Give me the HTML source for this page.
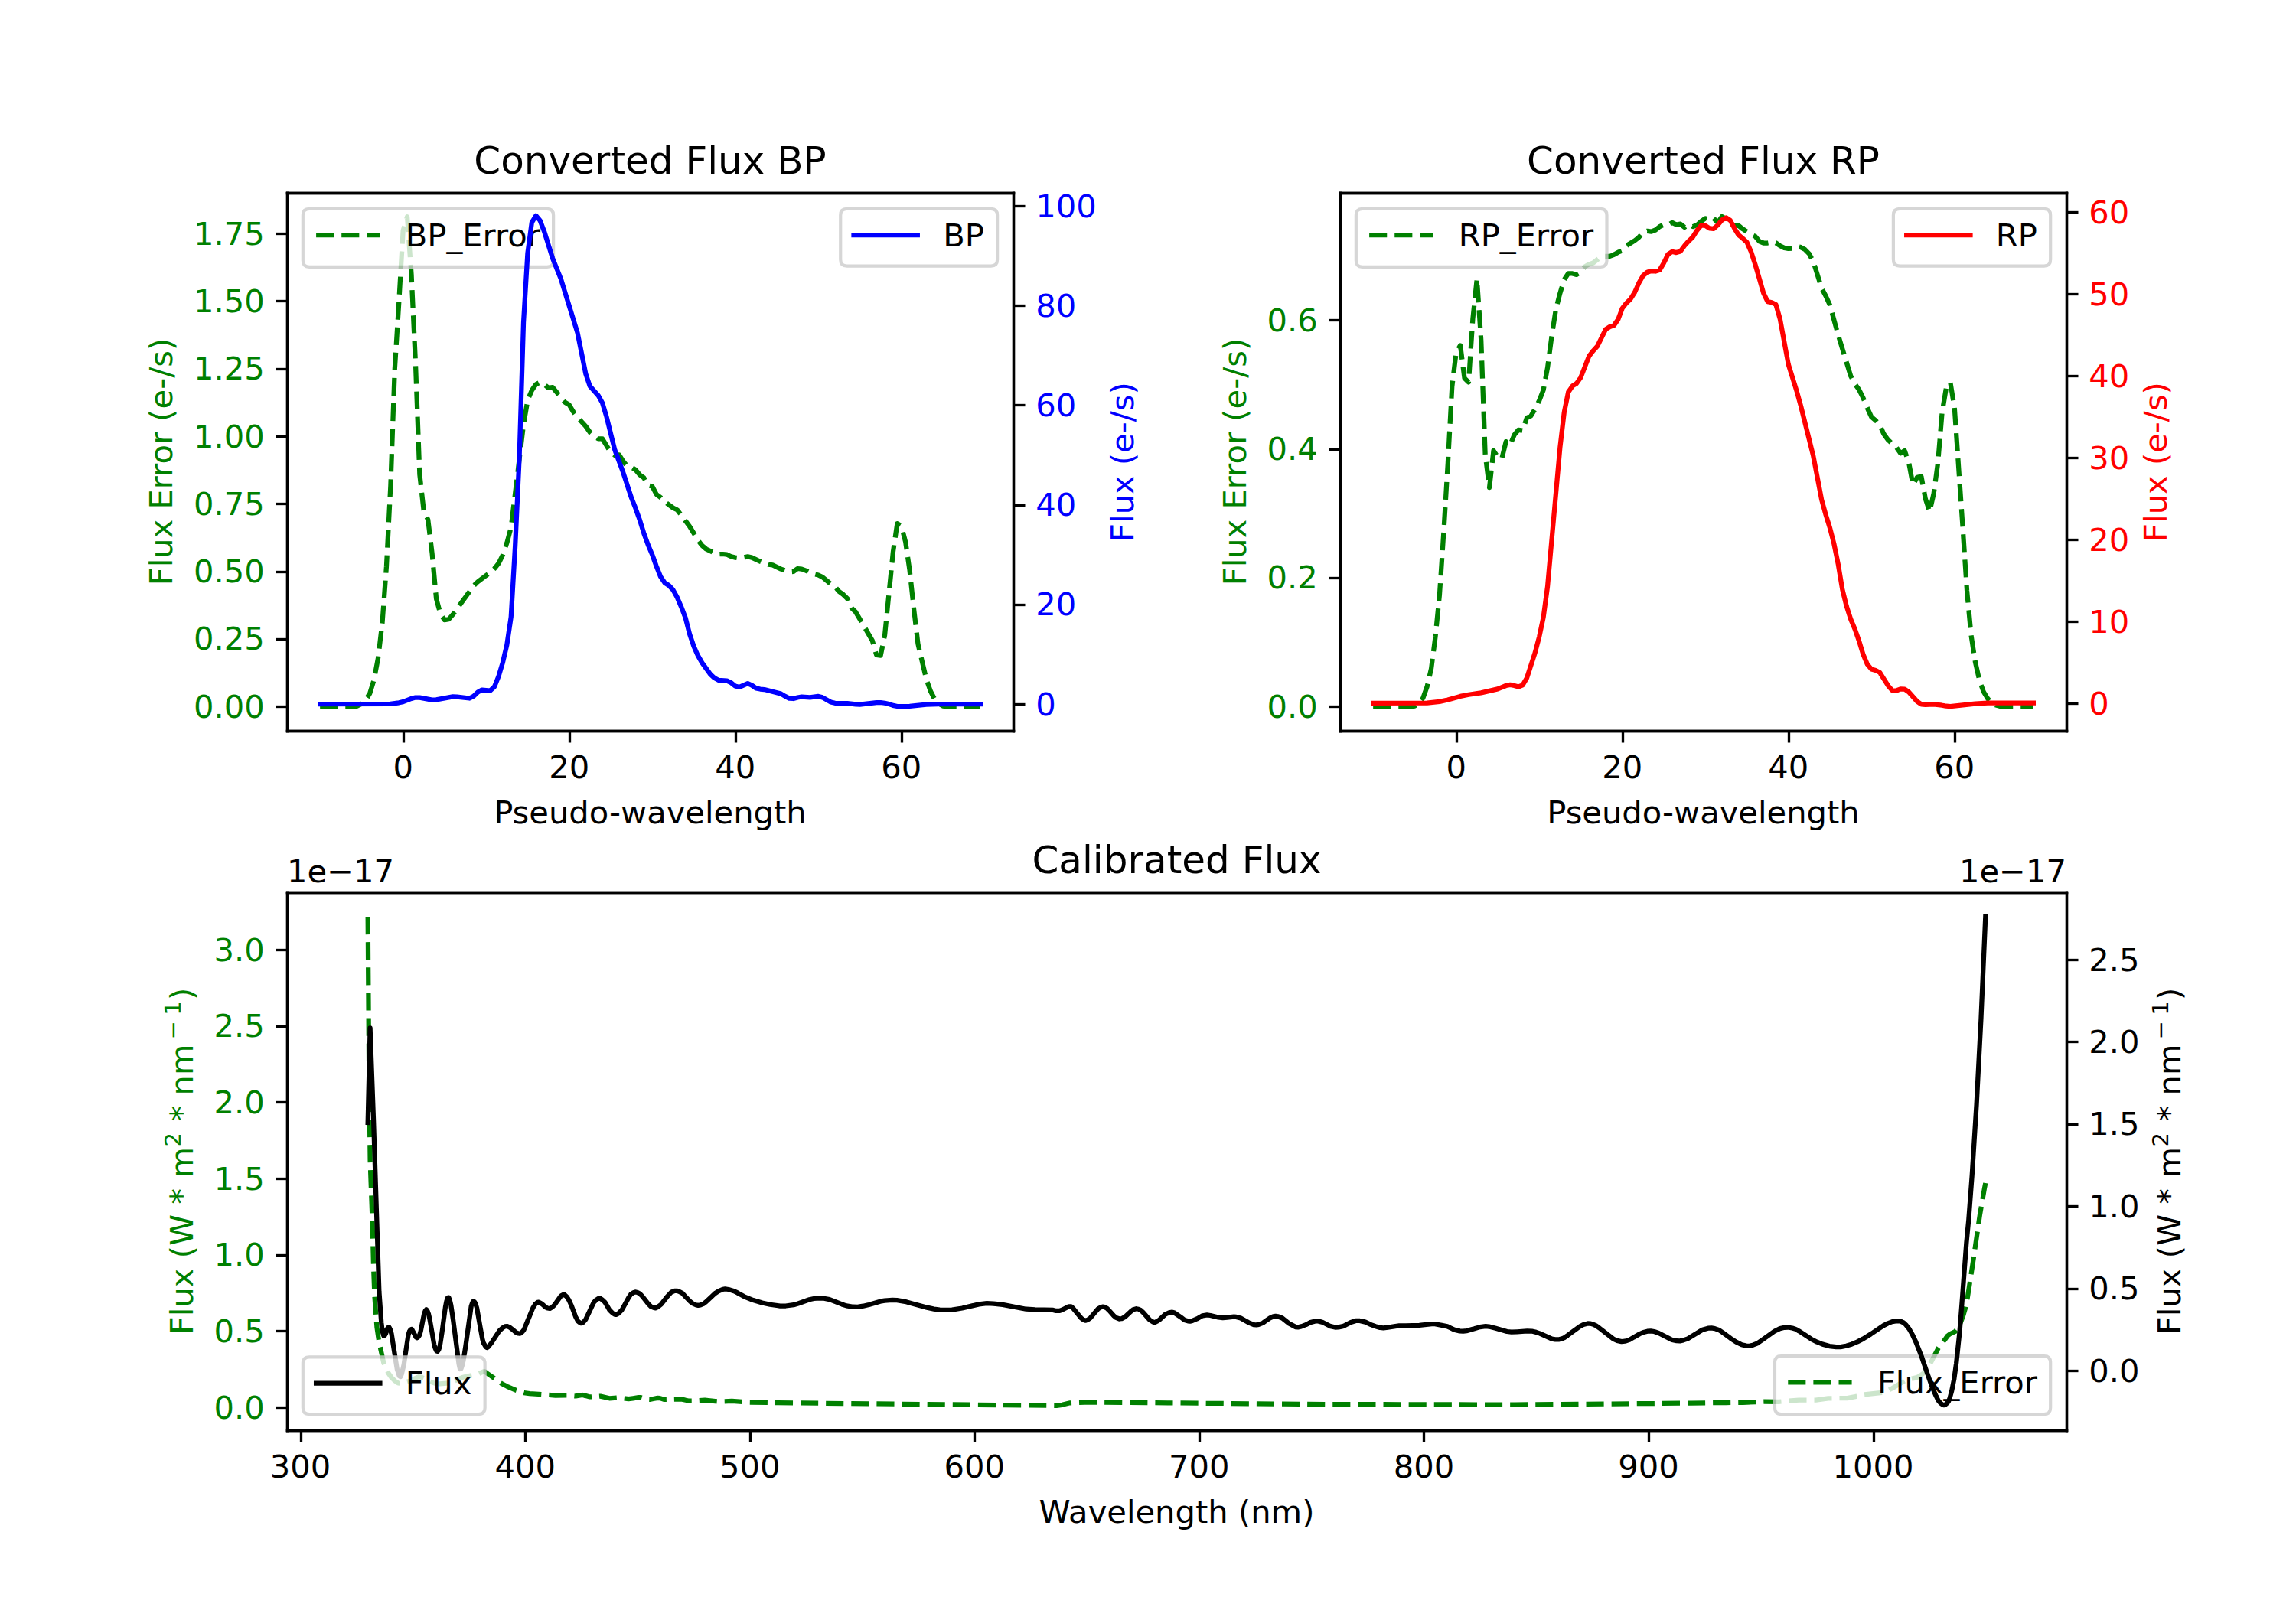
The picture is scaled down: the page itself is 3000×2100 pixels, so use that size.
<!DOCTYPE html>
<html lang="en"><head><meta charset="utf-8"><title>Gaia XP spectra</title>
<style>html,body{margin:0;padding:0;background:#fff}body{width:3000px;height:2100px;overflow:hidden}svg{display:block}</style></head>
<body>
<svg width="3000" height="2100" viewBox="0 0 720 504">
<style>svg *{stroke-linejoin: round; stroke-linecap: butt}</style>
<g>
<g>
<path d="M 0 504 L 720 504 L 720 0 L 0 0 z" style="fill: #ffffff"/>
</g>
<g>
<g>
<path d="M 90 229.210435 L 317.755102 229.210435 L 317.755102 60.48 L 90 60.48 z" style="fill: #ffffff"/>
</g>
<g>
<g>
<g>
<g>
<path d="M 126.6 229.32 L 126.6 232.92" style="stroke: #000000; stroke-width: 0.8"/>
</g>
</g>
<g>
<text style="font-size: 10px; font-family: 'DejaVu Sans', 'Liberation Sans', sans-serif; text-anchor: middle" x="126.396541" y="244.024872" transform="rotate(-0 126.396541 244.024872)">0</text>
</g>
</g>
<g>
<g>
<g>
<path d="M 178.68 229.32 L 178.68 232.92" style="stroke: #000000; stroke-width: 0.8"/>
</g>
</g>
<g>
<text style="font-size: 10px; font-family: 'DejaVu Sans', 'Liberation Sans', sans-serif; text-anchor: middle" x="178.484615" y="244.024872" transform="rotate(-0 178.484615 244.024872)">20</text>
</g>
</g>
<g>
<g>
<g>
<path d="M 230.76 229.32 L 230.76 232.92" style="stroke: #000000; stroke-width: 0.8"/>
</g>
</g>
<g>
<text style="font-size: 10px; font-family: 'DejaVu Sans', 'Liberation Sans', sans-serif; text-anchor: middle" x="230.572689" y="244.024872" transform="rotate(-0 230.572689 244.024872)">40</text>
</g>
</g>
<g>
<g>
<g>
<path d="M 282.84 229.32 L 282.84 232.92" style="stroke: #000000; stroke-width: 0.8"/>
</g>
</g>
<g>
<text style="font-size: 10px; font-family: 'DejaVu Sans', 'Liberation Sans', sans-serif; text-anchor: middle" x="282.660762" y="244.024872" transform="rotate(-0 282.660762 244.024872)">60</text>
</g>
</g>
<g>
<text style="font-size: 10px; font-family: 'DejaVu Sans', 'Liberation Sans', sans-serif; text-anchor: middle" x="203.877551" y="258.322997" transform="rotate(-0 203.877551 258.322997)">Pseudo-wavelength</text>
</g>
</g>
<g>
<g>
<g>
<g>
<path d="M 90.12 221.64 L 86.52 221.64" style="stroke: #000000; stroke-width: 0.8"/>
</g>
</g>
<g>
<text style="font-size: 10px; font-family: 'DejaVu Sans', 'Liberation Sans', sans-serif; text-anchor: end; fill: #008000" x="83" y="225.052088" transform="rotate(-0 83 225.052088)">0.00</text>
</g>
</g>
<g>
<g>
<g>
<path d="M 90.12 200.52 L 86.52 200.52" style="stroke: #000000; stroke-width: 0.8"/>
</g>
</g>
<g>
<text style="font-size: 10px; font-family: 'DejaVu Sans', 'Liberation Sans', sans-serif; text-anchor: end; fill: #008000" x="83" y="203.865444" transform="rotate(-0 83 203.865444)">0.25</text>
</g>
</g>
<g>
<g>
<g>
<path d="M 90.12 179.4 L 86.52 179.4" style="stroke: #000000; stroke-width: 0.8"/>
</g>
</g>
<g>
<text style="font-size: 10px; font-family: 'DejaVu Sans', 'Liberation Sans', sans-serif; text-anchor: end; fill: #008000" x="83" y="182.6788" transform="rotate(-0 83 182.6788)">0.50</text>
</g>
</g>
<g>
<g>
<g>
<path d="M 90.12 158.04 L 86.52 158.04" style="stroke: #000000; stroke-width: 0.8"/>
</g>
</g>
<g>
<text style="font-size: 10px; font-family: 'DejaVu Sans', 'Liberation Sans', sans-serif; text-anchor: end; fill: #008000" x="83" y="161.492156" transform="rotate(-0 83 161.492156)">0.75</text>
</g>
</g>
<g>
<g>
<g>
<path d="M 90.12 136.92 L 86.52 136.92" style="stroke: #000000; stroke-width: 0.8"/>
</g>
</g>
<g>
<text style="font-size: 10px; font-family: 'DejaVu Sans', 'Liberation Sans', sans-serif; text-anchor: end; fill: #008000" x="83" y="140.305511" transform="rotate(-0 83 140.305511)">1.00</text>
</g>
</g>
<g>
<g>
<g>
<path d="M 90.12 115.8 L 86.52 115.8" style="stroke: #000000; stroke-width: 0.8"/>
</g>
</g>
<g>
<text style="font-size: 10px; font-family: 'DejaVu Sans', 'Liberation Sans', sans-serif; text-anchor: end; fill: #008000" x="83" y="119.118867" transform="rotate(-0 83 119.118867)">1.25</text>
</g>
</g>
<g>
<g>
<g>
<path d="M 90.12 94.44 L 86.52 94.44" style="stroke: #000000; stroke-width: 0.8"/>
</g>
</g>
<g>
<text style="font-size: 10px; font-family: 'DejaVu Sans', 'Liberation Sans', sans-serif; text-anchor: end; fill: #008000" x="83" y="97.932223" transform="rotate(-0 83 97.932223)">1.50</text>
</g>
</g>
<g>
<g>
<g>
<path d="M 90.12 73.32 L 86.52 73.32" style="stroke: #000000; stroke-width: 0.8"/>
</g>
</g>
<g>
<text style="font-size: 10px; font-family: 'DejaVu Sans', 'Liberation Sans', sans-serif; text-anchor: end; fill: #008000" x="83" y="76.745579" transform="rotate(-0 83 76.745579)">1.75</text>
</g>
</g>
<g>
<text style="font-size: 10px; font-family: 'DejaVu Sans', 'Liberation Sans', sans-serif; text-anchor: middle; fill: #008000" x="54.104687" y="144.845217" transform="rotate(-90 54.104687 144.845217)">Flux Error (e-/s)</text>
</g>
</g>
<g>
<path d="M 100.353596 221.664797 L 110.771511 221.609477 L 112.073751 221.421372 L 113.37599 220.721891 L 114.678229 219.562513 L 115.980469 217.441608 L 117.282708 213.178465 L 118.584948 206.312276 L 119.887187 195.288344 L 121.189427 177.660113 L 122.491666 152.291317 L 123.793905 115.66026 L 125.096145 94.911923 L 126.398384 72.341399 L 127.700624 67.951716 L 129.002863 85.963981 L 130.305103 113.778924 L 131.607342 148.812148 L 132.909582 160.344342 L 134.211821 162.998417 L 135.51406 173.621254 L 136.8163 187.772917 L 138.118539 192.534473 L 139.420779 194.424557 L 140.723018 194.227429 L 142.025258 192.716445 L 148.536455 183.720065 L 149.838694 182.432911 L 152.443173 180.498955 L 153.745413 179.520735 L 155.047652 178.314074 L 156.349891 176.713264 L 157.652131 174.06129 L 158.95437 170.27953 L 160.25661 165.468999 L 164.163328 133.217873 L 165.465568 125.544322 L 166.767807 122.426046 L 168.070046 120.527951 L 169.372286 119.904294 L 170.674525 120.528886 L 171.976765 121.632303 L 173.279004 121.464302 L 177.185723 126.169099 L 178.487962 126.960329 L 179.790201 129.142916 L 181.092441 130.872922 L 183.69692 133.705552 L 184.999159 135.576372 L 186.301399 136.847671 L 187.603638 137.616382 L 188.905877 137.616382 L 191.510356 141.864403 L 192.812596 142.800406 L 194.114835 142.632407 L 195.417075 144.671759 L 196.719314 146.256808 L 198.021554 146.568426 L 199.323793 147.335667 L 200.626032 148.920871 L 201.928272 149.855949 L 203.230511 152.208859 L 204.532751 152.520455 L 205.83499 155.015443 L 207.13723 155.976892 L 208.439469 157.36806 L 211.043948 159.264489 L 212.346187 159.887816 L 216.252906 165.073991 L 218.857385 169.367116 L 220.159624 171.097044 L 221.461863 172.200259 L 224.066342 173.448559 L 225.368582 173.83256 L 226.670821 173.76056 L 227.973061 173.928464 L 229.2753 174.552871 L 230.57754 174.864566 L 231.879779 175.032567 L 233.182018 174.864485 L 234.484258 174.552564 L 235.786497 174.864873 L 238.390976 176.112172 L 240.995455 177.048486 L 242.297694 177.216773 L 244.902173 178.464184 L 247.506652 179.352588 L 248.808892 179.256458 L 250.111131 178.320583 L 251.413371 178.46442 L 252.71561 178.944786 L 254.017849 179.568389 L 255.320089 180.04887 L 256.622328 180.360593 L 257.924568 180.984008 L 260.529047 183.16827 L 261.831286 183.961386 L 263.133526 185.520619 L 264.435765 186.455828 L 265.738004 187.729287 L 267.040244 190.703995 L 268.342483 191.953827 L 273.551441 200.9036 L 274.85368 205.440956 L 276.15592 205.608718 L 277.458159 199.182958 L 280.062638 173.14052 L 281.364878 164.208514 L 282.667117 164.976517 L 283.969357 169.987802 L 285.271596 178.948377 L 286.573835 191.012408 L 287.876075 201.98945 L 290.480554 212.984291 L 291.782793 216.723895 L 293.085033 219.257964 L 294.387272 220.619495 L 295.689512 221.420169 L 296.991751 221.616833 L 299.59623 221.688798 L 307.409666 221.688798 L 307.409666 221.688798" style="fill: none; stroke-dasharray: 5.55,2.4; stroke-dashoffset: 0; stroke: #008000; stroke-width: 1.5"/>
</g>
<g>
<path d="M 90.12 229.32 L 90.12 60.6" style="fill: none; stroke: #000000; stroke-width: 0.8; stroke-linejoin: miter; stroke-linecap: square"/>
</g>
<g>
<path d="M 317.88 229.32 L 317.88 60.6" style="fill: none; stroke: #000000; stroke-width: 0.8; stroke-linejoin: miter; stroke-linecap: square"/>
</g>
<g>
<path d="M 90.12 229.32 L 317.88 229.32" style="fill: none; stroke: #000000; stroke-width: 0.8; stroke-linejoin: miter; stroke-linecap: square"/>
</g>
<g>
<path d="M 90.12 60.6 L 317.88 60.6" style="fill: none; stroke: #000000; stroke-width: 0.8; stroke-linejoin: miter; stroke-linecap: square"/>
</g>
<g>
<text style="font-size: 12px; font-family: 'DejaVu Sans', 'Liberation Sans', sans-serif; text-anchor: middle" x="203.877551" y="54.48" transform="rotate(-0 203.877551 54.48)">Converted Flux BP</text>
</g>
<g>
<g>
<path d="M 97 83.72425 L 171.548938 83.72425 Q 173.548938 83.72425 173.548938 81.72425 L 173.548938 67.48 Q 173.548938 65.48 171.548938 65.48 L 97 65.48 Q 95 65.48 95 67.48 L 95 81.72425 Q 95 83.72425 97 83.72425 z" style="fill: #ffffff; opacity: 0.8; stroke: #cccccc; stroke-linejoin: miter"/>
</g>
<g>
<path d="M 99.144 73.722437 L 109.144 73.722437 L 119.144 73.722437" style="fill: none; stroke-dasharray: 5.55,2.4; stroke-dashoffset: 0; stroke: #008000; stroke-width: 1.5"/>
</g>
<g>
<text style="font-size: 10px; font-family: 'DejaVu Sans', 'Liberation Sans', sans-serif; text-anchor: start" x="127.144" y="77.222437" transform="rotate(-0 127.144 77.222437)">BP_Error</text>
</g>
</g>
</g>
<g>
<g>
<path d="M 420.244898 229.210435 L 648 229.210435 L 648 60.48 L 420.244898 60.48 z" style="fill: #ffffff"/>
</g>
<g>
<g>
<g>
<g>
<path d="M 456.84 229.32 L 456.84 232.92" style="stroke: #000000; stroke-width: 0.8"/>
</g>
</g>
<g>
<text style="font-size: 10px; font-family: 'DejaVu Sans', 'Liberation Sans', sans-serif; text-anchor: middle" x="456.641439" y="244.024872" transform="rotate(-0 456.641439 244.024872)">0</text>
</g>
</g>
<g>
<g>
<g>
<path d="M 508.92 229.32 L 508.92 232.92" style="stroke: #000000; stroke-width: 0.8"/>
</g>
</g>
<g>
<text style="font-size: 10px; font-family: 'DejaVu Sans', 'Liberation Sans', sans-serif; text-anchor: middle" x="508.729513" y="244.024872" transform="rotate(-0 508.729513 244.024872)">20</text>
</g>
</g>
<g>
<g>
<g>
<path d="M 561 229.32 L 561 232.92" style="stroke: #000000; stroke-width: 0.8"/>
</g>
</g>
<g>
<text style="font-size: 10px; font-family: 'DejaVu Sans', 'Liberation Sans', sans-serif; text-anchor: middle" x="560.817587" y="244.024872" transform="rotate(-0 560.817587 244.024872)">40</text>
</g>
</g>
<g>
<g>
<g>
<path d="M 613.08 229.32 L 613.08 232.92" style="stroke: #000000; stroke-width: 0.8"/>
</g>
</g>
<g>
<text style="font-size: 10px; font-family: 'DejaVu Sans', 'Liberation Sans', sans-serif; text-anchor: middle" x="612.90566" y="244.024872" transform="rotate(-0 612.90566 244.024872)">60</text>
</g>
</g>
<g>
<text style="font-size: 10px; font-family: 'DejaVu Sans', 'Liberation Sans', sans-serif; text-anchor: middle" x="534.122449" y="258.322997" transform="rotate(-0 534.122449 258.322997)">Pseudo-wavelength</text>
</g>
</g>
<g>
<g>
<g>
<g>
<path d="M 420.36 221.64 L 416.76 221.64" style="stroke: #000000; stroke-width: 0.8"/>
</g>
</g>
<g>
<text style="font-size: 10px; font-family: 'DejaVu Sans', 'Liberation Sans', sans-serif; text-anchor: end; fill: #008000" x="413.244898" y="225.051997" transform="rotate(-0 413.244898 225.051997)">0.0</text>
</g>
</g>
<g>
<g>
<g>
<path d="M 420.36 181.32 L 416.76 181.32" style="stroke: #000000; stroke-width: 0.8"/>
</g>
</g>
<g>
<text style="font-size: 10px; font-family: 'DejaVu Sans', 'Liberation Sans', sans-serif; text-anchor: end; fill: #008000" x="413.244898" y="184.664124" transform="rotate(-0 413.244898 184.664124)">0.2</text>
</g>
</g>
<g>
<g>
<g>
<path d="M 420.36 141 L 416.76 141" style="stroke: #000000; stroke-width: 0.8"/>
</g>
</g>
<g>
<text style="font-size: 10px; font-family: 'DejaVu Sans', 'Liberation Sans', sans-serif; text-anchor: end; fill: #008000" x="413.244898" y="144.276251" transform="rotate(-0 413.244898 144.276251)">0.4</text>
</g>
</g>
<g>
<g>
<g>
<path d="M 420.36 100.44 L 416.76 100.44" style="stroke: #000000; stroke-width: 0.8"/>
</g>
</g>
<g>
<text style="font-size: 10px; font-family: 'DejaVu Sans', 'Liberation Sans', sans-serif; text-anchor: end; fill: #008000" x="413.244898" y="103.888379" transform="rotate(-0 413.244898 103.888379)">0.6</text>
</g>
</g>
<g>
<text style="font-size: 10px; font-family: 'DejaVu Sans', 'Liberation Sans', sans-serif; text-anchor: middle; fill: #008000" x="390.712085" y="144.845217" transform="rotate(-90 390.712085 144.845217)">Flux Error (e-/s)</text>
</g>
</g>
<g>
<path d="M 430.596094 221.664797 L 442.316248 221.664797 L 443.618488 221.423672 L 444.920727 220.572649 L 446.222967 218.967186 L 447.525206 215.314615 L 448.827446 209.659976 L 450.129685 199.636112 L 451.431925 186.445223 L 452.734164 166.815425 L 454.036403 145.365359 L 455.338643 121.320301 L 456.640882 110.448247 L 457.943122 108.360237 L 459.245361 118.608288 L 460.547601 119.856294 L 461.84984 100.008196 L 463.15208 87.456133 L 464.454319 106.680229 L 465.756558 142.560406 L 467.058798 152.928457 L 468.361037 141.3124 L 469.663277 143.40041 L 470.965516 143.784412 L 472.267756 138.504386 L 473.569995 139.536391 L 474.872234 136.392376 L 476.174474 134.832368 L 477.476713 135.048369 L 478.778953 131.064349 L 480.081192 130.440346 L 481.383432 128.256335 L 482.685671 125.640322 L 483.987911 122.305566 L 485.29015 115.32877 L 486.592389 105.504378 L 487.894629 97.059744 L 489.196868 91.996695 L 490.499108 87.711981 L 491.801347 85.762908 L 493.103587 85.776932 L 494.405826 86.128937 L 495.708066 85.292799 L 497.010305 83.612383 L 498.312544 82.880657 L 499.614784 82.439713 L 502.219263 80.376098 L 504.823742 80.374973 L 506.125981 79.878892 L 507.42822 79.128092 L 508.73046 78.60009 L 510.032699 77.040082 L 512.637178 75.456074 L 513.939418 74.424069 L 515.241657 72.864061 L 516.543897 72.432059 L 517.846136 72.64806 L 519.148375 72.120058 L 520.450615 71.064052 L 521.752854 70.440049 L 523.055094 70.56005 L 524.357333 69.816046 L 525.659573 70.440049 L 526.961812 70.248048 L 528.264051 71.280053 L 529.566291 70.344049 L 530.86853 71.064052 L 532.17077 70.56005 L 533.473009 69.408044 L 534.775249 68.47204 L 536.077488 69.096043 L 537.379728 68.47204 L 538.681967 69.816046 L 539.984206 67.944037 L 541.286446 68.66404 L 542.588685 69.936047 L 543.890925 70.752051 L 545.193164 70.752051 L 546.495404 71.808056 L 549.099883 73.488064 L 550.402122 74.112067 L 551.704361 75.672075 L 553.006601 76.200078 L 554.30884 76.200078 L 555.61108 75.987916 L 556.913319 76.171329 L 558.215559 77.101278 L 559.517798 77.721 L 560.820037 77.968815 L 562.122277 77.883479 L 563.424516 77.256463 L 564.726756 77.559221 L 566.028995 78.266664 L 567.331235 79.587393 L 568.633474 82.033812 L 571.237953 90.361257 L 572.540192 92.817491 L 573.842432 95.719248 L 576.446911 105.117306 L 580.353629 117.906853 L 581.655869 120.393117 L 582.958108 122.169157 L 584.260347 124.768478 L 585.562587 127.94724 L 586.864826 130.761201 L 588.167066 131.830706 L 589.469305 133.312378 L 590.771545 136.190198 L 592.073784 137.950611 L 593.376023 139.200389 L 594.678263 140.280395 L 595.980502 142.152404 L 597.282742 141.3604 L 598.584981 145.104419 L 599.887221 152.112453 L 601.18946 149.688441 L 602.4917 149.42444 L 603.793939 156.408475 L 605.096178 160.440495 L 606.398418 154.800467 L 607.700657 145.200419 L 609.002897 129.600342 L 610.305136 121.680303 L 611.607376 120.000294 L 612.909615 127.920334 L 615.514094 165.60052 L 616.816333 185.280617 L 618.118573 199.200686 L 619.420812 207.600728 L 620.723052 213.360756 L 622.025291 216.960774 L 623.327531 219.120785 L 624.62977 220.440791 L 625.932009 221.160795 L 627.234249 221.520797 L 628.536488 221.712798 L 637.652164 221.712798 L 637.652164 221.712798" style="fill: none; stroke-dasharray: 5.55,2.4; stroke-dashoffset: 0; stroke: #008000; stroke-width: 1.5"/>
</g>
<g>
<path d="M 420.36 229.32 L 420.36 60.6" style="fill: none; stroke: #000000; stroke-width: 0.8; stroke-linejoin: miter; stroke-linecap: square"/>
</g>
<g>
<path d="M 648.12 229.32 L 648.12 60.6" style="fill: none; stroke: #000000; stroke-width: 0.8; stroke-linejoin: miter; stroke-linecap: square"/>
</g>
<g>
<path d="M 420.36 229.32 L 648.12 229.32" style="fill: none; stroke: #000000; stroke-width: 0.8; stroke-linejoin: miter; stroke-linecap: square"/>
</g>
<g>
<path d="M 420.36 60.6 L 648.12 60.6" style="fill: none; stroke: #000000; stroke-width: 0.8; stroke-linejoin: miter; stroke-linecap: square"/>
</g>
<g>
<text style="font-size: 12px; font-family: 'DejaVu Sans', 'Liberation Sans', sans-serif; text-anchor: middle" x="534.122449" y="54.48" transform="rotate(-0 534.122449 54.48)">Converted Flux RP</text>
</g>
<g>
<g>
<path d="M 427.244898 83.72425 L 501.881335 83.72425 Q 503.881335 83.72425 503.881335 81.72425 L 503.881335 67.48 Q 503.881335 65.48 501.881335 65.48 L 427.244898 65.48 Q 425.244898 65.48 425.244898 67.48 L 425.244898 81.72425 Q 425.244898 83.72425 427.244898 83.72425 z" style="fill: #ffffff; opacity: 0.8; stroke: #cccccc; stroke-linejoin: miter"/>
</g>
<g>
<path d="M 429.388898 73.722437 L 439.388898 73.722437 L 449.388898 73.722437" style="fill: none; stroke-dasharray: 5.55,2.4; stroke-dashoffset: 0; stroke: #008000; stroke-width: 1.5"/>
</g>
<g>
<text style="font-size: 10px; font-family: 'DejaVu Sans', 'Liberation Sans', sans-serif; text-anchor: start" x="457.388898" y="77.222437" transform="rotate(-0 457.388898 77.222437)">RP_Error</text>
</g>
</g>
</g>
<g>
<g>
<path d="M 90 448.56 L 648 448.56 L 648 279.829565 L 90 279.829565 z" style="fill: #ffffff"/>
</g>
<g>
<g>
<g>
<g>
<path d="M 94.44 448.68 L 94.44 452.28" style="stroke: #000000; stroke-width: 0.8"/>
</g>
</g>
<g>
<text style="font-size: 10px; font-family: 'DejaVu Sans', 'Liberation Sans', sans-serif; text-anchor: middle" x="94.227273" y="463.374437" transform="rotate(-0 94.227273 463.374437)">300</text>
</g>
</g>
<g>
<g>
<g>
<path d="M 164.76 448.68 L 164.76 452.28" style="stroke: #000000; stroke-width: 0.8"/>
</g>
</g>
<g>
<text style="font-size: 10px; font-family: 'DejaVu Sans', 'Liberation Sans', sans-serif; text-anchor: middle" x="164.681818" y="463.374437" transform="rotate(-0 164.681818 463.374437)">400</text>
</g>
</g>
<g>
<g>
<g>
<path d="M 235.32 448.68 L 235.32 452.28" style="stroke: #000000; stroke-width: 0.8"/>
</g>
</g>
<g>
<text style="font-size: 10px; font-family: 'DejaVu Sans', 'Liberation Sans', sans-serif; text-anchor: middle" x="235.136364" y="463.374437" transform="rotate(-0 235.136364 463.374437)">500</text>
</g>
</g>
<g>
<g>
<g>
<path d="M 305.64 448.68 L 305.64 452.28" style="stroke: #000000; stroke-width: 0.8"/>
</g>
</g>
<g>
<text style="font-size: 10px; font-family: 'DejaVu Sans', 'Liberation Sans', sans-serif; text-anchor: middle" x="305.590909" y="463.374437" transform="rotate(-0 305.590909 463.374437)">600</text>
</g>
</g>
<g>
<g>
<g>
<path d="M 376.2 448.68 L 376.2 452.28" style="stroke: #000000; stroke-width: 0.8"/>
</g>
</g>
<g>
<text style="font-size: 10px; font-family: 'DejaVu Sans', 'Liberation Sans', sans-serif; text-anchor: middle" x="376.045455" y="463.374437" transform="rotate(-0 376.045455 463.374437)">700</text>
</g>
</g>
<g>
<g>
<g>
<path d="M 446.52 448.68 L 446.52 452.28" style="stroke: #000000; stroke-width: 0.8"/>
</g>
</g>
<g>
<text style="font-size: 10px; font-family: 'DejaVu Sans', 'Liberation Sans', sans-serif; text-anchor: middle" x="446.5" y="463.374437" transform="rotate(-0 446.5 463.374437)">800</text>
</g>
</g>
<g>
<g>
<g>
<path d="M 517.08 448.68 L 517.08 452.28" style="stroke: #000000; stroke-width: 0.8"/>
</g>
</g>
<g>
<text style="font-size: 10px; font-family: 'DejaVu Sans', 'Liberation Sans', sans-serif; text-anchor: middle" x="516.954545" y="463.374437" transform="rotate(-0 516.954545 463.374437)">900</text>
</g>
</g>
<g>
<g>
<g>
<path d="M 587.64 448.68 L 587.64 452.28" style="stroke: #000000; stroke-width: 0.8"/>
</g>
</g>
<g>
<text style="font-size: 10px; font-family: 'DejaVu Sans', 'Liberation Sans', sans-serif; text-anchor: middle" x="587.409091" y="463.374437" transform="rotate(-0 587.409091 463.374437)">1000</text>
</g>
</g>
<g>
<text style="font-size: 10px; font-family: 'DejaVu Sans', 'Liberation Sans', sans-serif; text-anchor: middle" x="369" y="477.672563" transform="rotate(-0 369 477.672563)">Wavelength (nm)</text>
</g>
</g>
<g>
<g>
<g>
<g>
<path d="M 90.12 441.48 L 86.52 441.48" style="stroke: #000000; stroke-width: 0.8"/>
</g>
</g>
<g>
<text style="font-size: 10px; font-family: 'DejaVu Sans', 'Liberation Sans', sans-serif; text-anchor: end; fill: #008000" x="83" y="444.870739" transform="rotate(-0 83 444.870739)">0.0</text>
</g>
</g>
<g>
<g>
<g>
<path d="M 90.12 417.48 L 86.52 417.48" style="stroke: #000000; stroke-width: 0.8"/>
</g>
</g>
<g>
<text style="font-size: 10px; font-family: 'DejaVu Sans', 'Liberation Sans', sans-serif; text-anchor: end; fill: #008000" x="83" y="420.948881" transform="rotate(-0 83 420.948881)">0.5</text>
</g>
</g>
<g>
<g>
<g>
<path d="M 90.12 393.72 L 86.52 393.72" style="stroke: #000000; stroke-width: 0.8"/>
</g>
</g>
<g>
<text style="font-size: 10px; font-family: 'DejaVu Sans', 'Liberation Sans', sans-serif; text-anchor: end; fill: #008000" x="83" y="397.027023" transform="rotate(-0 83 397.027023)">1.0</text>
</g>
</g>
<g>
<g>
<g>
<path d="M 90.12 369.72 L 86.52 369.72" style="stroke: #000000; stroke-width: 0.8"/>
</g>
</g>
<g>
<text style="font-size: 10px; font-family: 'DejaVu Sans', 'Liberation Sans', sans-serif; text-anchor: end; fill: #008000" x="83" y="373.105165" transform="rotate(-0 83 373.105165)">1.5</text>
</g>
</g>
<g>
<g>
<g>
<path d="M 90.12 345.72 L 86.52 345.72" style="stroke: #000000; stroke-width: 0.8"/>
</g>
</g>
<g>
<text style="font-size: 10px; font-family: 'DejaVu Sans', 'Liberation Sans', sans-serif; text-anchor: end; fill: #008000" x="83" y="349.183307" transform="rotate(-0 83 349.183307)">2.0</text>
</g>
</g>
<g>
<g>
<g>
<path d="M 90.12 321.96 L 86.52 321.96" style="stroke: #000000; stroke-width: 0.8"/>
</g>
</g>
<g>
<text style="font-size: 10px; font-family: 'DejaVu Sans', 'Liberation Sans', sans-serif; text-anchor: end; fill: #008000" x="83" y="325.261448" transform="rotate(-0 83 325.261448)">2.5</text>
</g>
</g>
<g>
<g>
<g>
<path d="M 90.12 297.96 L 86.52 297.96" style="stroke: #000000; stroke-width: 0.8"/>
</g>
</g>
<g>
<text style="font-size: 10px; font-family: 'DejaVu Sans', 'Liberation Sans', sans-serif; text-anchor: end; fill: #008000" x="83" y="301.33959" transform="rotate(-0 83 301.33959)">3.0</text>
</g>
</g>
<g>
<g style="fill: #008000" transform="translate(61.467187 418.594783) rotate(-90)">
<text xml:space="preserve" style="font-kerning: none; font-family: 'DejaVu Sans', 'Liberation Sans', sans-serif; fill: #008000"><tspan x="0" y="-0.9766" style="font-size: 10px">Flux (W * m</tspan><tspan x="58.9482" y="-4.8047" style="font-size: 7px">2</tspan><tspan x="63.6753" y="-0.9766" style="font-size: 10px"> * nm</tspan><tspan x="92.5713" y="-4.8047" style="font-size: 7px">−</tspan><tspan x="100.1694" y="-4.8047" style="font-size: 7px">1</tspan><tspan x="104.8965" y="-0.9766" style="font-size: 10px">)</tspan></text>
</g>
</g>
<g>
<text style="font-size: 10px; font-family: 'DejaVu Sans', 'Liberation Sans', sans-serif; text-anchor: start" x="90" y="276.829565" transform="rotate(-0 90 276.829565)">1e−17</text>
</g>
</g>
<g>
<path d="M 115.3632 287.519203 L 115.715472 335.71647 L 116.067744 364.036715 L 116.772288 383.271096 L 117.12456 397.168477 L 117.476832 406.633707 L 118.181376 416.214669 L 118.88592 420.970749 L 120.295008 427.35207 L 120.999552 429.221026 L 121.704096 430.522111 L 122.760912 432.022405 L 123.817728 433.081214 L 124.874544 433.803438 L 125.579088 433.883599 L 126.635904 433.685208 L 128.397264 433.118933 L 131.21544 431.811709 L 131.919984 431.886111 L 132.9768 432.30647 L 135.794976 433.649721 L 136.851792 434.011317 L 137.908608 434.024907 L 140.02224 433.856211 L 141.431328 433.49691 L 143.54496 432.672698 L 144.954048 432.008126 L 146.715408 431.585252 L 149.885856 430.920973 L 151.647216 430.16476 L 151.999488 430.182169 L 152.704032 430.679539 L 153.760848 431.395923 L 155.522208 432.594332 L 157.283568 433.902911 L 159.044928 434.833754 L 161.863104 436.049482 L 164.329008 436.836859 L 166.090368 437.065577 L 174.192624 437.650536 L 177.715344 437.634214 L 180.53352 437.863149 L 182.647152 437.510301 L 183.703968 437.786057 L 184.760784 438.08796 L 185.465328 438.10623 L 188.283504 437.903604 L 191.10168 438.548635 L 193.919856 438.328655 L 197.090304 438.760755 L 198.499392 438.557634 L 200.260752 438.274949 L 200.965296 438.295003 L 202.022112 438.59987 L 203.078928 438.917329 L 203.783472 438.947896 L 204.840288 438.734699 L 206.249376 438.438909 L 206.95392 438.509923 L 208.363008 438.94968 L 210.124368 438.907241 L 213.647088 438.806245 L 215.056176 439.147974 L 216.112992 439.370959 L 217.169808 439.364413 L 221.0448 439.127998 L 225.272064 439.563416 L 229.499328 439.43357 L 234.431136 439.800039 L 243.94248 439.967247 L 331.305936 440.828371 L 333.067296 440.58777 L 335.5332 439.99885 L 340.112736 439.837386 L 344.692272 439.812217 L 416.908032 440.455399 L 424.305744 440.434234 L 475.032912 440.552292 L 530.339616 440.063778 L 541.260048 439.928756 L 546.544128 439.866898 L 553.237296 439.611293 L 557.816832 439.624864 L 564.157728 439.111349 L 569.441808 439.107012 L 573.3168 438.575951 L 579.305424 438.506978 L 581.771328 438.03595 L 584.589504 437.379267 L 590.225856 436.789792 L 591.987216 436.10527 L 593.396304 435.407474 L 597.271296 433.091234 L 598.680384 432.551703 L 600.089472 432.263829 L 601.146288 431.999787 L 602.203104 431.437887 L 603.25992 430.612976 L 603.964464 429.798826 L 605.02128 428.195643 L 607.839456 422.776588 L 608.896272 421.374039 L 609.953088 420.057378 L 610.657632 419.022701 L 611.362176 418.454269 L 613.123536 417.591672 L 613.82808 416.680772 L 614.884896 414.613292 L 615.58944 412.783237 L 616.293984 410.395552 L 616.998528 406.954461 L 618.759888 395.537474 L 620.87352 380.918488 L 622.282608 372.837383 L 622.632 371.039616 L 622.632 371.039616" style="fill: none; stroke-dasharray: 5.55,2.4; stroke-dashoffset: 0; stroke: #008000; stroke-width: 1.5"/>
</g>
<g>
<path d="M 90.12 448.68 L 90.12 279.96" style="fill: none; stroke: #000000; stroke-width: 0.8; stroke-linejoin: miter; stroke-linecap: square"/>
</g>
<g>
<path d="M 648.12 448.68 L 648.12 279.96" style="fill: none; stroke: #000000; stroke-width: 0.8; stroke-linejoin: miter; stroke-linecap: square"/>
</g>
<g>
<path d="M 90.12 448.68 L 648.12 448.68" style="fill: none; stroke: #000000; stroke-width: 0.8; stroke-linejoin: miter; stroke-linecap: square"/>
</g>
<g>
<path d="M 90.12 279.96 L 648.12 279.96" style="fill: none; stroke: #000000; stroke-width: 0.8; stroke-linejoin: miter; stroke-linecap: square"/>
</g>
<g>
<text style="font-size: 12px; font-family: 'DejaVu Sans', 'Liberation Sans', sans-serif; text-anchor: middle" x="369" y="273.829565" transform="rotate(-0 369 273.829565)">Calibrated Flux</text>
</g>
<g>
<g>
<path d="M 558.55575 443.56 L 641 443.56 Q 643 443.56 643 441.56 L 643 427.31575 Q 643 425.31575 641 425.31575 L 558.55575 425.31575 Q 556.55575 425.31575 556.55575 427.31575 L 556.55575 441.56 Q 556.55575 443.56 558.55575 443.56 z" style="fill: #ffffff; opacity: 0.8; stroke: #cccccc; stroke-linejoin: miter"/>
</g>
<g>
<path d="M 560.69975 433.558188 L 570.69975 433.558188 L 580.69975 433.558188" style="fill: none; stroke-dasharray: 5.55,2.4; stroke-dashoffset: 0; stroke: #008000; stroke-width: 1.5"/>
</g>
<g>
<text style="font-size: 10px; font-family: 'DejaVu Sans', 'Liberation Sans', sans-serif; text-anchor: start" x="588.69975" y="437.058188" transform="rotate(-0 588.69975 437.058188)">Flux_Error</text>
</g>
</g>
</g>
<g>
<g>
<g>
<g>
<g>
<path d="M 317.88 220.92 L 321.48 220.92" style="stroke: #000000; stroke-width: 0.8"/>
</g>
</g>
<g>
<text style="font-size: 10px; font-family: 'DejaVu Sans', 'Liberation Sans', sans-serif; text-anchor: start; fill: #0000ff" x="324.755102" y="224.30005" transform="rotate(-0 324.755102 224.30005)">0</text>
</g>
</g>
<g>
<g>
<g>
<path d="M 317.88 189.72 L 321.48 189.72" style="stroke: #000000; stroke-width: 0.8"/>
</g>
</g>
<g>
<text style="font-size: 10px; font-family: 'DejaVu Sans', 'Liberation Sans', sans-serif; text-anchor: start; fill: #0000ff" x="324.755102" y="193.056856" transform="rotate(-0 324.755102 193.056856)">20</text>
</g>
</g>
<g>
<g>
<g>
<path d="M 317.88 158.52 L 321.48 158.52" style="stroke: #000000; stroke-width: 0.8"/>
</g>
</g>
<g>
<text style="font-size: 10px; font-family: 'DejaVu Sans', 'Liberation Sans', sans-serif; text-anchor: start; fill: #0000ff" x="324.755102" y="161.813661" transform="rotate(-0 324.755102 161.813661)">40</text>
</g>
</g>
<g>
<g>
<g>
<path d="M 317.88 127.08 L 321.48 127.08" style="stroke: #000000; stroke-width: 0.8"/>
</g>
</g>
<g>
<text style="font-size: 10px; font-family: 'DejaVu Sans', 'Liberation Sans', sans-serif; text-anchor: start; fill: #0000ff" x="324.755102" y="130.570467" transform="rotate(-0 324.755102 130.570467)">60</text>
</g>
</g>
<g>
<g>
<g>
<path d="M 317.88 95.88 L 321.48 95.88" style="stroke: #000000; stroke-width: 0.8"/>
</g>
</g>
<g>
<text style="font-size: 10px; font-family: 'DejaVu Sans', 'Liberation Sans', sans-serif; text-anchor: start; fill: #0000ff" x="324.755102" y="99.327272" transform="rotate(-0 324.755102 99.327272)">80</text>
</g>
</g>
<g>
<g>
<g>
<path d="M 317.88 64.68 L 321.48 64.68" style="stroke: #000000; stroke-width: 0.8"/>
</g>
</g>
<g>
<text style="font-size: 10px; font-family: 'DejaVu Sans', 'Liberation Sans', sans-serif; text-anchor: start; fill: #0000ff" x="324.755102" y="68.084077" transform="rotate(-0 324.755102 68.084077)">100</text>
</g>
</g>
<g>
<text style="font-size: 10px; font-family: 'DejaVu Sans', 'Liberation Sans', sans-serif; text-anchor: middle; fill: #0000ff" x="355.44104" y="144.845217" transform="rotate(-90 355.44104 144.845217)">Flux (e-/s)</text>
</g>
</g>
<g>
<path d="M 100.353596 220.800826 L 122.491666 220.772493 L 125.096145 220.397562 L 126.398384 220.106269 L 129.002863 219.09178 L 130.305103 218.766415 L 131.607342 218.796436 L 135.51406 219.52478 L 136.8163 219.449983 L 142.025258 218.477161 L 143.327497 218.534157 L 147.234215 219.000782 L 148.536455 218.329254 L 149.838694 217.071286 L 151.140934 216.384834 L 153.745413 216.604914 L 155.047652 215.373257 L 156.349891 212.145947 L 157.652131 207.793844 L 158.95437 202.241226 L 160.25661 193.512491 L 161.558849 171.191563 L 162.861089 143.469744 L 164.163328 101.189873 L 165.465568 79.392688 L 166.767807 69.74194 L 168.070046 67.632042 L 169.372286 69.199186 L 170.674525 72.606392 L 173.279004 80.949455 L 175.883483 87.44395 L 181.092441 104.370113 L 183.69692 117.317058 L 184.999159 121.121404 L 187.603638 124.039143 L 188.905877 126.380592 L 190.208117 130.725658 L 192.812596 141.166965 L 195.417075 148.189813 L 198.021554 156.164725 L 199.323793 159.47546 L 200.626032 163.111716 L 201.928272 167.309788 L 203.230511 170.873852 L 204.532751 173.961635 L 205.83499 177.567726 L 207.13723 180.845647 L 208.439469 182.765702 L 209.741708 183.598914 L 211.043948 184.97496 L 212.346187 187.299226 L 213.648427 190.363985 L 214.950666 193.763107 L 216.252906 198.836569 L 217.555145 202.65945 L 218.857385 205.594813 L 220.159624 207.872007 L 222.764103 211.482369 L 224.066342 212.652504 L 225.368582 213.343739 L 227.973061 213.504513 L 229.2753 214.136075 L 230.57754 215.182254 L 231.879779 215.51267 L 234.484258 214.368936 L 235.786497 214.939005 L 237.088737 215.861437 L 238.390976 216.135103 L 239.693216 216.254691 L 244.902173 217.578683 L 246.204413 218.373697 L 247.506652 219.020902 L 248.808892 219.120785 L 250.111131 218.751451 L 251.413371 218.530292 L 254.017849 218.731701 L 256.622328 218.377241 L 257.924568 218.73126 L 260.529047 220.193061 L 261.831286 220.520598 L 265.738004 220.601571 L 268.342483 220.913245 L 269.644723 220.926844 L 274.85368 220.326336 L 276.15592 220.320632 L 277.458159 220.505306 L 278.760399 220.814361 L 280.062638 221.250401 L 281.364878 221.53201 L 285.271596 221.494219 L 290.480554 220.970268 L 294.387272 220.848793 L 307.409666 220.848793 L 307.409666 220.848793" style="fill: none; stroke: #0000ff; stroke-width: 1.5; stroke-linecap: square"/>
</g>
<g>
<path d="M 90.12 229.32 L 90.12 60.6" style="fill: none; stroke: #000000; stroke-width: 0.8; stroke-linejoin: miter; stroke-linecap: square"/>
</g>
<g>
<path d="M 317.88 229.32 L 317.88 60.6" style="fill: none; stroke: #000000; stroke-width: 0.8; stroke-linejoin: miter; stroke-linecap: square"/>
</g>
<g>
<path d="M 90.12 229.32 L 317.88 229.32" style="fill: none; stroke: #000000; stroke-width: 0.8; stroke-linejoin: miter; stroke-linecap: square"/>
</g>
<g>
<path d="M 90.12 60.6 L 317.88 60.6" style="fill: none; stroke: #000000; stroke-width: 0.8; stroke-linejoin: miter; stroke-linecap: square"/>
</g>
<g>
<g>
<path d="M 265.576477 83.446125 L 310.755102 83.446125 Q 312.755102 83.446125 312.755102 81.446125 L 312.755102 67.48 Q 312.755102 65.48 310.755102 65.48 L 265.576477 65.48 Q 263.576477 65.48 263.576477 67.48 L 263.576477 81.446125 Q 263.576477 83.446125 265.576477 83.446125 z" style="fill: #ffffff; opacity: 0.8; stroke: #cccccc; stroke-linejoin: miter"/>
</g>
<g>
<path d="M 267.720477 73.722438 L 277.720477 73.722438 L 287.720477 73.722438" style="fill: none; stroke: #0000ff; stroke-width: 1.5; stroke-linecap: square"/>
</g>
<g>
<text style="font-size: 10px; font-family: 'DejaVu Sans', 'Liberation Sans', sans-serif; text-anchor: start" x="295.720477" y="77.222438" transform="rotate(-0 295.720477 77.222438)">BP</text>
</g>
</g>
</g>
<g>
<g>
<g>
<g>
<g>
<path d="M 648.12 220.68 L 651.72 220.68" style="stroke: #000000; stroke-width: 0.8"/>
</g>
</g>
<g>
<text style="font-size: 10px; font-family: 'DejaVu Sans', 'Liberation Sans', sans-serif; text-anchor: start; fill: #ff0000" x="655" y="224.091394" transform="rotate(-0 655 224.091394)">0</text>
</g>
</g>
<g>
<g>
<g>
<path d="M 648.12 195 L 651.72 195" style="stroke: #000000; stroke-width: 0.8"/>
</g>
</g>
<g>
<text style="font-size: 10px; font-family: 'DejaVu Sans', 'Liberation Sans', sans-serif; text-anchor: start; fill: #ff0000" x="655" y="198.413739" transform="rotate(-0 655 198.413739)">10</text>
</g>
</g>
<g>
<g>
<g>
<path d="M 648.12 169.32 L 651.72 169.32" style="stroke: #000000; stroke-width: 0.8"/>
</g>
</g>
<g>
<text style="font-size: 10px; font-family: 'DejaVu Sans', 'Liberation Sans', sans-serif; text-anchor: start; fill: #ff0000" x="655" y="172.736085" transform="rotate(-0 655 172.736085)">20</text>
</g>
</g>
<g>
<g>
<g>
<path d="M 648.12 143.64 L 651.72 143.64" style="stroke: #000000; stroke-width: 0.8"/>
</g>
</g>
<g>
<text style="font-size: 10px; font-family: 'DejaVu Sans', 'Liberation Sans', sans-serif; text-anchor: start; fill: #ff0000" x="655" y="147.058431" transform="rotate(-0 655 147.058431)">30</text>
</g>
</g>
<g>
<g>
<g>
<path d="M 648.12 117.96 L 651.72 117.96" style="stroke: #000000; stroke-width: 0.8"/>
</g>
</g>
<g>
<text style="font-size: 10px; font-family: 'DejaVu Sans', 'Liberation Sans', sans-serif; text-anchor: start; fill: #ff0000" x="655" y="121.380776" transform="rotate(-0 655 121.380776)">40</text>
</g>
</g>
<g>
<g>
<g>
<path d="M 648.12 92.28 L 651.72 92.28" style="stroke: #000000; stroke-width: 0.8"/>
</g>
</g>
<g>
<text style="font-size: 10px; font-family: 'DejaVu Sans', 'Liberation Sans', sans-serif; text-anchor: start; fill: #ff0000" x="655" y="95.703122" transform="rotate(-0 655 95.703122)">50</text>
</g>
</g>
<g>
<g>
<g>
<path d="M 648.12 66.6 L 651.72 66.6" style="stroke: #000000; stroke-width: 0.8"/>
</g>
</g>
<g>
<text style="font-size: 10px; font-family: 'DejaVu Sans', 'Liberation Sans', sans-serif; text-anchor: start; fill: #ff0000" x="655" y="70.025468" transform="rotate(-0 655 70.025468)">60</text>
</g>
</g>
<g>
<text style="font-size: 10px; font-family: 'DejaVu Sans', 'Liberation Sans', sans-serif; text-anchor: middle; fill: #ff0000" x="679.323437" y="144.845217" transform="rotate(-90 679.323437 144.845217)">Flux (e-/s)</text>
</g>
</g>
<g>
<path d="M 430.596094 220.512792 L 447.525206 220.447416 L 451.431925 220.043577 L 454.036403 219.493709 L 457.943122 218.371541 L 460.547601 217.865414 L 464.454319 217.290259 L 469.663277 216.098802 L 472.267756 215.037431 L 473.569995 214.781807 L 474.872234 215.016707 L 476.174474 215.395646 L 477.476713 214.868274 L 478.778953 212.691845 L 481.383432 204.658959 L 482.685671 199.72234 L 483.987911 193.606535 L 485.29015 183.962326 L 489.196868 140.446619 L 490.499108 129.398154 L 491.801347 122.972064 L 493.103587 121.065463 L 494.405826 120.238629 L 495.708066 118.374014 L 498.312544 111.677772 L 499.614784 109.986814 L 500.917023 108.58516 L 503.521502 103.295045 L 504.823742 102.475992 L 506.125981 102.034449 L 507.42822 100.16456 L 508.73046 96.696179 L 510.032699 95.016171 L 511.334939 93.768165 L 512.637178 91.680154 L 513.939418 88.75214 L 515.241657 86.448128 L 516.543897 85.392123 L 517.846136 84.984121 L 519.148375 85.080122 L 520.450615 84.67212 L 521.752854 82.464109 L 523.055094 79.752095 L 524.357333 78.912091 L 525.659573 79.224093 L 526.961812 78.816091 L 528.264051 77.040082 L 529.566291 75.576075 L 530.86853 74.328069 L 532.17077 72.216058 L 533.473009 70.65605 L 534.775249 70.752051 L 536.077488 71.592055 L 537.379728 71.712056 L 538.681967 70.56005 L 539.984206 68.976042 L 541.286446 68.256038 L 542.588685 69.096043 L 543.890925 71.592055 L 545.193164 73.680065 L 546.495404 74.736071 L 547.797643 75.984077 L 549.099883 78.912091 L 550.402122 82.896111 L 553.006601 91.872155 L 554.30884 94.584169 L 555.61108 94.852381 L 556.913319 95.537173 L 558.215559 100.127827 L 560.820037 114.313806 L 563.424516 122.632971 L 564.726756 127.350877 L 568.633474 143.054774 L 571.237953 156.727709 L 572.540192 161.444059 L 573.842432 165.590395 L 575.144671 170.651478 L 576.446911 177.046011 L 577.74915 184.882773 L 579.05139 190.118459 L 580.353629 194.150956 L 581.655869 197.278013 L 582.958108 200.962961 L 584.260347 205.221178 L 585.562587 208.328054 L 586.864826 209.877377 L 588.167066 210.247302 L 589.469305 210.891969 L 592.073784 215.027763 L 593.376023 216.543553 L 594.678263 216.600738 L 595.980502 216.073857 L 597.282742 216.158919 L 598.584981 217.042406 L 601.18946 219.994821 L 602.4917 220.8858 L 603.793939 220.995424 L 606.398418 220.909022 L 609.002897 221.211506 L 610.305136 221.448365 L 611.607376 221.540765 L 615.514094 221.149745 L 619.420812 220.707427 L 623.327531 220.467565 L 637.652164 220.464792 L 637.652164 220.464792" style="fill: none; stroke: #ff0000; stroke-width: 1.5; stroke-linecap: square"/>
</g>
<g>
<path d="M 420.36 229.32 L 420.36 60.6" style="fill: none; stroke: #000000; stroke-width: 0.8; stroke-linejoin: miter; stroke-linecap: square"/>
</g>
<g>
<path d="M 648.12 229.32 L 648.12 60.6" style="fill: none; stroke: #000000; stroke-width: 0.8; stroke-linejoin: miter; stroke-linecap: square"/>
</g>
<g>
<path d="M 420.36 229.32 L 648.12 229.32" style="fill: none; stroke: #000000; stroke-width: 0.8; stroke-linejoin: miter; stroke-linecap: square"/>
</g>
<g>
<path d="M 420.36 60.6 L 648.12 60.6" style="fill: none; stroke: #000000; stroke-width: 0.8; stroke-linejoin: miter; stroke-linecap: square"/>
</g>
<g>
<g>
<path d="M 595.733875 83.446125 L 641 83.446125 Q 643 83.446125 643 81.446125 L 643 67.48 Q 643 65.48 641 65.48 L 595.733875 65.48 Q 593.733875 65.48 593.733875 67.48 L 593.733875 81.446125 Q 593.733875 83.446125 595.733875 83.446125 z" style="fill: #ffffff; opacity: 0.8; stroke: #cccccc; stroke-linejoin: miter"/>
</g>
<g>
<path d="M 597.877875 73.722438 L 607.877875 73.722438 L 617.877875 73.722438" style="fill: none; stroke: #ff0000; stroke-width: 1.5; stroke-linecap: square"/>
</g>
<g>
<text style="font-size: 10px; font-family: 'DejaVu Sans', 'Liberation Sans', sans-serif; text-anchor: start" x="625.877875" y="77.222438" transform="rotate(-0 625.877875 77.222438)">RP</text>
</g>
</g>
</g>
<g>
<g>
<g>
<g>
<g>
<path d="M 648.12 429.96 L 651.72 429.96" style="stroke: #000000; stroke-width: 0.8"/>
</g>
</g>
<g>
<text style="font-size: 10px; font-family: 'DejaVu Sans', 'Liberation Sans', sans-serif; text-anchor: start" x="655" y="433.353177" transform="rotate(-0 655 433.353177)">0.0</text>
</g>
</g>
<g>
<g>
<g>
<path d="M 648.12 404.28 L 651.72 404.28" style="stroke: #000000; stroke-width: 0.8"/>
</g>
</g>
<g>
<text style="font-size: 10px; font-family: 'DejaVu Sans', 'Liberation Sans', sans-serif; text-anchor: start" x="655" y="407.577852" transform="rotate(-0 655 407.577852)">0.5</text>
</g>
</g>
<g>
<g>
<g>
<path d="M 648.12 378.36 L 651.72 378.36" style="stroke: #000000; stroke-width: 0.8"/>
</g>
</g>
<g>
<text style="font-size: 10px; font-family: 'DejaVu Sans', 'Liberation Sans', sans-serif; text-anchor: start" x="655" y="381.802527" transform="rotate(-0 655 381.802527)">1.0</text>
</g>
</g>
<g>
<g>
<g>
<path d="M 648.12 352.68 L 651.72 352.68" style="stroke: #000000; stroke-width: 0.8"/>
</g>
</g>
<g>
<text style="font-size: 10px; font-family: 'DejaVu Sans', 'Liberation Sans', sans-serif; text-anchor: start" x="655" y="356.027201" transform="rotate(-0 655 356.027201)">1.5</text>
</g>
</g>
<g>
<g>
<g>
<path d="M 648.12 326.76 L 651.72 326.76" style="stroke: #000000; stroke-width: 0.8"/>
</g>
</g>
<g>
<text style="font-size: 10px; font-family: 'DejaVu Sans', 'Liberation Sans', sans-serif; text-anchor: start" x="655" y="330.251876" transform="rotate(-0 655 330.251876)">2.0</text>
</g>
</g>
<g>
<g>
<g>
<path d="M 648.12 301.08 L 651.72 301.08" style="stroke: #000000; stroke-width: 0.8"/>
</g>
</g>
<g>
<text style="font-size: 10px; font-family: 'DejaVu Sans', 'Liberation Sans', sans-serif; text-anchor: start" x="655" y="304.476551" transform="rotate(-0 655 304.476551)">2.5</text>
</g>
</g>
<g>
<g transform="translate(684.703437 418.594783) rotate(-90)">
<text xml:space="preserve" style="font-kerning: none; font-family: 'DejaVu Sans', 'Liberation Sans', sans-serif"><tspan x="0" y="-0.9766" style="font-size: 10px">Flux (W * m</tspan><tspan x="58.9482" y="-4.8047" style="font-size: 7px">2</tspan><tspan x="63.6753" y="-0.9766" style="font-size: 10px"> * nm</tspan><tspan x="92.5713" y="-4.8047" style="font-size: 7px">−</tspan><tspan x="100.1694" y="-4.8047" style="font-size: 7px">1</tspan><tspan x="104.8965" y="-0.9766" style="font-size: 10px">)</tspan></text>
</g>
</g>
<g>
<text style="font-size: 10px; font-family: 'DejaVu Sans', 'Liberation Sans', sans-serif; text-anchor: end" x="648" y="276.829565" transform="rotate(-0 648 276.829565)">1e−17</text>
</g>
</g>
<g>
<path d="M 115.3632 352.079523 L 116.067744 322.414162 L 117.12456 350.938116 L 118.88592 405.081395 L 119.590464 414.859246 L 119.942736 417.613274 L 120.295008 418.885964 L 120.64728 418.791305 L 120.999552 418.168454 L 121.351824 416.861938 L 121.704096 416.344499 L 122.056368 416.266545 L 122.40864 417.025381 L 122.760912 418.277957 L 124.522272 429.421031 L 125.226816 431.556214 L 125.579088 431.771718 L 125.93136 430.989662 L 126.635904 428.061123 L 127.340448 423.264481 L 128.044992 418.619632 L 128.397264 417.540254 L 128.749536 417.003882 L 129.101808 416.847143 L 130.510896 419.441679 L 130.863168 419.577164 L 131.21544 419.268448 L 131.567712 418.704365 L 131.919984 417.485372 L 132.9768 412.149232 L 133.329072 411.172493 L 133.681344 410.71182 L 134.033616 411.148536 L 134.385888 412.087463 L 134.73816 413.639611 L 136.147248 421.696921 L 136.49952 422.890277 L 136.851792 423.675935 L 137.204064 423.835444 L 137.556336 423.352716 L 137.908608 422.318191 L 138.613152 417.828658 L 139.669968 409.893931 L 140.02224 408.10802 L 140.374512 407.032426 L 140.726784 406.933839 L 141.079056 407.84546 L 141.431328 409.374466 L 142.135872 414.16382 L 143.897232 427.76549 L 144.249504 429.356244 L 144.601776 429.266655 L 144.954048 428.184641 L 145.30632 426.73424 L 146.010864 422.209246 L 147.772224 409.607013 L 148.124496 408.588199 L 148.476768 408.053319 L 148.82904 408.324535 L 149.181312 409.058153 L 149.533584 410.198878 L 150.5904 416.198644 L 151.294944 420.016727 L 151.647216 421.255225 L 152.35176 422.42473 L 152.704032 422.638235 L 153.056304 422.494348 L 154.11312 421.172267 L 156.579024 417.384345 L 157.63584 416.44611 L 158.340384 416.010033 L 159.044928 415.915035 L 159.749472 416.243183 L 161.15856 417.321445 L 161.863104 417.940348 L 162.567648 418.201535 L 162.91992 418.247746 L 163.272192 418.143676 L 163.976736 417.498512 L 164.329008 416.972862 L 165.385824 414.413069 L 167.147184 410.127072 L 167.851728 409.049091 L 168.556272 408.41687 L 168.908544 408.369633 L 169.613088 408.720449 L 170.317632 409.259753 L 171.022176 409.956257 L 171.72672 410.280769 L 172.431264 410.393445 L 173.135808 410.009621 L 173.840352 409.318975 L 175.953984 406.366563 L 176.658528 406.025957 L 177.0108 406.047299 L 177.715344 406.686811 L 178.419888 407.761833 L 179.124432 409.306957 L 180.53352 412.998451 L 181.238064 414.375543 L 181.942608 414.885525 L 182.29488 415.000619 L 182.647152 414.933676 L 183.351696 414.22082 L 183.703968 413.739998 L 184.760784 411.498887 L 186.169872 408.513018 L 186.874416 407.763508 L 187.57896 407.271048 L 187.931232 407.184637 L 188.283504 407.248377 L 188.988048 407.73229 L 189.692592 408.419073 L 190.397136 409.575431 L 191.10168 410.806159 L 192.158496 411.87631 L 192.86304 412.290246 L 193.215312 412.308089 L 193.919856 411.939978 L 194.976672 410.876901 L 195.681216 409.625589 L 197.090304 407.058431 L 197.794848 405.987787 L 198.499392 405.48152 L 199.203936 405.224769 L 199.90848 405.350612 L 200.613024 405.732291 L 201.317568 406.422765 L 203.4312 409.099259 L 204.135744 409.76524 L 205.19256 410.210307 L 205.544832 410.222763 L 206.249376 409.925774 L 207.306192 409.104976 L 209.067552 406.853256 L 210.47664 405.298112 L 211.533456 404.86415 L 212.238 404.828718 L 212.942544 405.036571 L 213.99936 405.618551 L 215.056176 406.775344 L 216.465264 408.212564 L 217.169808 408.782721 L 218.226624 409.264258 L 218.931168 409.414393 L 219.635712 409.305991 L 220.692528 408.845822 L 221.397072 408.324664 L 224.215248 405.655457 L 225.272064 404.990565 L 226.681152 404.35623 L 227.385696 404.255939 L 228.442512 404.395222 L 230.203872 404.924673 L 231.260688 405.458179 L 233.37432 406.634019 L 236.192496 407.766899 L 239.010672 408.610374 L 241.476576 409.135421 L 244.647024 409.585933 L 246.408384 409.561842 L 248.874288 409.239911 L 250.283376 408.824494 L 253.806096 407.574699 L 255.215184 407.267887 L 256.976544 407.11206 L 258.385632 407.213239 L 260.146992 407.540521 L 261.55608 408.093147 L 264.021984 409.06872 L 265.431072 409.527185 L 267.544704 409.856258 L 268.953792 409.869946 L 270.715152 409.603049 L 272.476512 409.188562 L 275.999232 408.166396 L 277.40832 407.923094 L 279.874224 407.737335 L 281.283312 407.809587 L 283.749216 408.199718 L 285.862848 408.758737 L 290.090112 409.940473 L 292.908288 410.545656 L 294.669648 410.807619 L 297.135552 410.855739 L 298.54464 410.769259 L 301.715088 410.277449 L 304.885536 409.538535 L 306.999168 409.056189 L 309.465072 408.772995 L 311.578704 408.845412 L 314.39688 409.173416 L 321.794592 410.569501 L 324.612768 410.739004 L 330.24912 410.855424 L 330.953664 411.060619 L 332.362752 411.071742 L 333.067296 410.834988 L 335.180928 409.758524 L 335.885472 409.758929 L 336.590016 410.385636 L 337.646832 411.699273 L 339.05592 413.423746 L 339.760464 413.941836 L 340.465008 414.166322 L 341.169552 413.897257 L 341.874096 413.399922 L 343.283184 411.726219 L 344.34 410.489613 L 345.044544 410.053066 L 345.749088 409.829527 L 346.453632 409.964886 L 347.158176 410.336576 L 347.86272 411.062836 L 349.271808 412.630441 L 349.976352 413.243685 L 351.033168 413.64384 L 351.737712 413.569884 L 352.794528 413.01155 L 354.555888 411.353481 L 355.260432 410.774493 L 356.317248 410.450409 L 357.021792 410.583813 L 357.726336 410.923361 L 358.43088 411.576054 L 360.544512 413.98344 L 361.601328 414.618976 L 361.9536 414.713401 L 362.305872 414.683893 L 363.010416 414.309653 L 363.71496 413.800475 L 365.47632 412.174475 L 366.885408 411.59414 L 367.589952 411.505208 L 368.294496 411.735163 L 370.055856 412.938526 L 371.464944 413.997793 L 372.52176 414.310792 L 373.226304 414.383043 L 373.930848 414.235842 L 375.339936 413.619041 L 377.101296 412.640041 L 378.510384 412.416995 L 379.5672 412.56377 L 382.033104 413.1563 L 383.442192 413.327785 L 384.85128 413.171916 L 386.964912 412.97087 L 387.669456 413.013402 L 389.078544 413.409715 L 390.13536 414.004393 L 391.544448 414.795543 L 393.305808 415.493114 L 394.010352 415.555067 L 394.714896 415.419511 L 396.123984 414.853355 L 397.1808 414.070211 L 398.237616 413.372242 L 399.294432 412.872926 L 399.998976 412.752705 L 400.70352 412.864791 L 402.112608 413.404036 L 403.169424 414.225819 L 404.22624 415.067806 L 406.339872 416.18751 L 407.044416 416.246927 L 408.101232 416.019197 L 409.51032 415.485329 L 410.919408 414.746454 L 412.680768 414.296552 L 413.385312 414.331728 L 414.7944 414.728159 L 415.851216 415.248007 L 417.260304 415.959903 L 418.669392 416.289814 L 419.726208 416.243118 L 421.135296 415.947286 L 421.83984 415.64601 L 423.6012 414.70285 L 425.36256 414.183522 L 426.419376 414.231774 L 428.180736 414.639394 L 429.942096 415.468124 L 431.351184 415.980407 L 432.760272 416.38489 L 433.817088 416.467019 L 435.226176 416.29447 L 438.748896 415.783904 L 440.862528 415.751838 L 445.089792 415.645968 L 448.964784 415.237303 L 450.0216 415.256936 L 452.135232 415.656897 L 453.896592 416.021575 L 454.953408 416.52905 L 456.010224 417.035147 L 457.771584 417.443132 L 458.8284 417.526781 L 459.885216 417.389993 L 462.35112 416.723993 L 464.11248 416.191873 L 465.87384 415.97021 L 466.930656 416.05895 L 469.044288 416.593637 L 472.567008 417.594716 L 473.976096 417.763914 L 475.737456 417.673016 L 478.907904 417.447658 L 480.316992 417.485625 L 481.72608 417.819633 L 482.782896 418.172415 L 486.657888 419.91633 L 487.714704 420.09831 L 488.77152 420.117591 L 489.828336 419.824375 L 490.53288 419.533447 L 491.589696 418.820785 L 495.464688 415.964844 L 496.521504 415.427675 L 497.930592 415.074571 L 498.635136 415.088047 L 499.691952 415.383695 L 500.396496 415.685187 L 501.453312 416.43635 L 506.032848 419.999522 L 507.089664 420.449179 L 508.498752 420.762149 L 509.555568 420.65344 L 510.964656 420.211037 L 512.373744 419.377001 L 514.135104 418.390906 L 515.19192 417.893737 L 516.601008 417.525542 L 517.657824 417.43711 L 518.71464 417.605707 L 520.123728 418.064846 L 524.350992 420.248168 L 525.76008 420.526535 L 526.816896 420.557649 L 527.873712 420.34231 L 529.2828 419.842822 L 531.04416 418.751732 L 533.862336 417.071784 L 535.623696 416.563491 L 536.680512 416.47713 L 537.737328 416.667792 L 539.146416 417.176678 L 540.203232 417.901911 L 542.669136 419.714009 L 544.430496 420.869754 L 546.191856 421.731931 L 547.600944 422.076797 L 548.65776 422.108411 L 549.714576 421.846643 L 551.123664 421.264135 L 552.532752 420.289913 L 556.407744 417.532597 L 558.169104 416.669811 L 559.578192 416.349031 L 560.635008 416.28721 L 562.044096 416.515229 L 563.100912 416.850149 L 564.157728 417.479092 L 568.03272 419.986209 L 569.79408 420.888484 L 571.55544 421.592098 L 573.669072 422.171152 L 575.782704 422.44444 L 577.191792 422.428583 L 578.953152 422.093107 L 580.36224 421.697462 L 582.475872 420.815196 L 584.237232 419.910293 L 586.703136 418.381891 L 590.578128 415.764324 L 591.987216 415.047092 L 593.396304 414.523385 L 594.805392 414.301813 L 595.862208 414.314237 L 596.919024 414.813954 L 597.623568 415.441688 L 598.680384 416.764716 L 599.7372 418.615634 L 600.794016 420.868604 L 602.555376 425.368005 L 604.316736 430.533894 L 605.725824 434.559745 L 607.134912 437.858672 L 607.839456 439.27452 L 608.544 440.0846 L 609.248544 440.57744 L 609.600816 440.6636 L 609.953088 440.583491 L 610.657632 439.987604 L 611.009904 439.549101 L 611.362176 438.725721 L 612.06672 436.100491 L 612.771264 432.592371 L 613.475808 427.54529 L 614.532624 417.602792 L 615.237168 408.676248 L 616.646256 389.835113 L 617.3508 382.565107 L 618.407616 368.639324 L 619.816704 346.471201 L 621.225792 319.597931 L 622.632 287.447203 L 622.632 287.447203" style="fill: none; stroke: #000000; stroke-width: 1.5; stroke-linecap: square"/>
</g>
<g>
<path d="M 90.12 448.68 L 90.12 279.96" style="fill: none; stroke: #000000; stroke-width: 0.8; stroke-linejoin: miter; stroke-linecap: square"/>
</g>
<g>
<path d="M 648.12 448.68 L 648.12 279.96" style="fill: none; stroke: #000000; stroke-width: 0.8; stroke-linejoin: miter; stroke-linecap: square"/>
</g>
<g>
<path d="M 90.12 448.68 L 648.12 448.68" style="fill: none; stroke: #000000; stroke-width: 0.8; stroke-linejoin: miter; stroke-linecap: square"/>
</g>
<g>
<path d="M 90.12 279.96 L 648.12 279.96" style="fill: none; stroke: #000000; stroke-width: 0.8; stroke-linejoin: miter; stroke-linecap: square"/>
</g>
<g>
<g>
<path d="M 97 443.56 L 150.073937 443.56 Q 152.073937 443.56 152.073937 441.56 L 152.073937 427.593875 Q 152.073937 425.593875 150.073937 425.593875 L 97 425.593875 Q 95 425.593875 95 427.593875 L 95 441.56 Q 95 443.56 97 443.56 z" style="fill: #ffffff; opacity: 0.8; stroke: #cccccc; stroke-linejoin: miter"/>
</g>
<g>
<path d="M 99.144 433.836313 L 109.144 433.836313 L 119.144 433.836313" style="fill: none; stroke: #000000; stroke-width: 1.5; stroke-linecap: square"/>
</g>
<g>
<text style="font-size: 10px; font-family: 'DejaVu Sans', 'Liberation Sans', sans-serif; text-anchor: start" x="127.144" y="437.336313" transform="rotate(-0 127.144 437.336313)">Flux</text>
</g>
</g>
</g>
</g>
</svg>

</body></html>
